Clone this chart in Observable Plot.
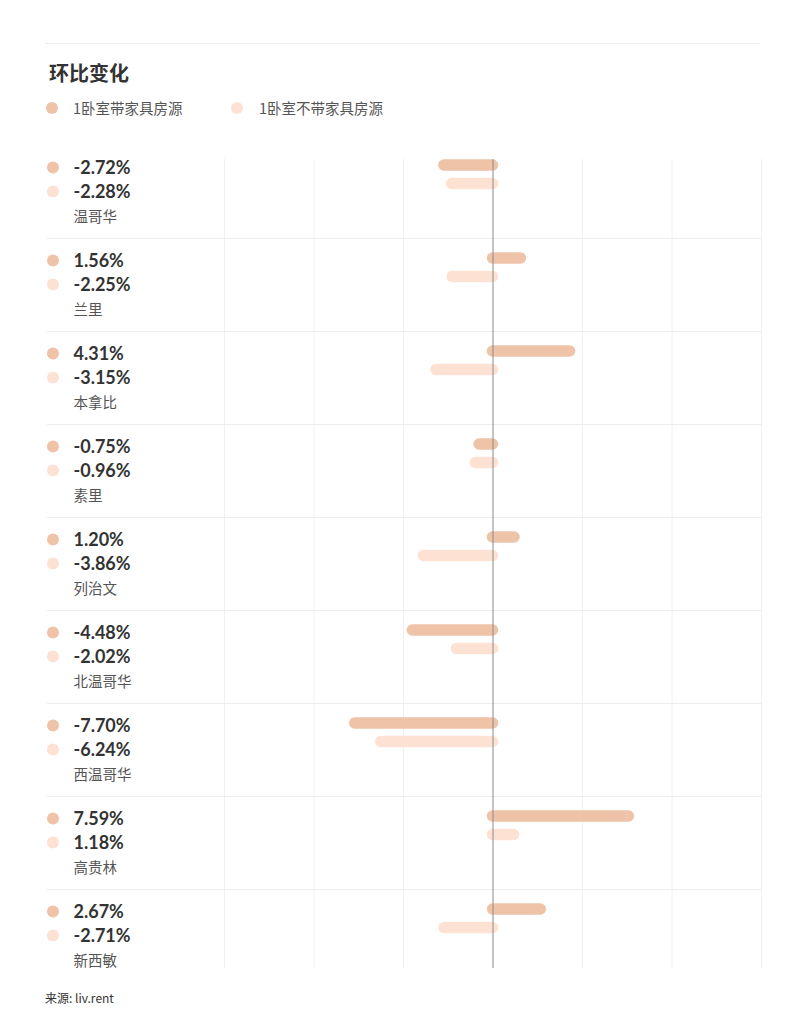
<!DOCTYPE html>
<html>
<head>
<meta charset="utf-8">
<script src="https://cdn.jsdelivr.net/npm/d3@7"></script>
<script src="https://cdn.jsdelivr.net/npm/@observablehq/plot@0.6"></script>
<style>
  html, body { margin: 0; padding: 0; background: #fff; }
  #wrap { position: relative; width: 805px; height: 1024px; font-family: "Noto Sans CJK SC", "Noto Sans", sans-serif; }
  #topline { position: absolute; left: 45px; top: 43px; width: 715px; height: 1px; background: #ededed; }
  #title { position: absolute; left: 49px; top: 59px; font-size: 20px; font-weight: bold; color: #333; line-height: 28px; }
  .leg { position: absolute; top: 97px; font-size: 14.5px; color: #555; line-height: 22px; white-space: nowrap; }
  .leg span.dot { position: absolute; width: 12px; height: 12px; border-radius: 50%; top: 5px; }
  #chart { position: absolute; left: 0; top: 130px; }
  #caption { position: absolute; left: 45px; top: 989px; font-size: 12px; color: #333; line-height: 18px; }
</style>
</head>
<body>
<div id="wrap">
  <div id="topline"></div>
  <div id="title"></div>
  <div id="legend"></div>
  <div id="chart"></div>
  <div id="caption"></div>
</div>
<script>
const titleText = "环比变化";
const captionText = "来源: liv.rent";
const seriesNames = ["1卧室带家具房源", "1卧室不带家具房源"];
const cities = ["温哥华", "兰里", "本拿比", "素里", "列治文", "北温哥华", "西温哥华", "高贵林", "新西敏"];
const furnished = [-2.72, 1.56, 4.31, -0.75, 1.20, -4.48, -7.70, 7.59, 2.67];
const unfurnished = [-2.28, -2.25, -3.15, -0.96, -3.86, -2.02, -6.24, 1.18, -2.71];
const gridTicks = [-15, -10, -5, 5, 10, 15];
const colors = ["#efc3a8", "#fde2d3"];

document.getElementById("title").textContent = titleText;
document.getElementById("caption").textContent = captionText;

const legend = document.getElementById("legend");
const legX = [[46, 73], [231, 259]];
seriesNames.forEach((name, i) => {
  const dot = document.createElement("div");
  dot.className = "leg";
  dot.style.left = legX[i][0] + "px";
  dot.innerHTML = `<span class="dot" style="background:${colors[i]}"></span>`;
  legend.appendChild(dot);
  const t = document.createElement("div");
  t.className = "leg";
  t.style.left = legX[i][1] + "px";
  t.textContent = name;
  legend.appendChild(t);
});

const rows = cities.map((c, i) => ({city: c, f: furnished[i], u: unfurnished[i]}));
const fmt = v => v.toFixed(2) + "%";
const numFont = "Lato, 'Noto Sans', sans-serif";
const cjkFont = "'Noto Sans CJK SC', sans-serif";

const chart = Plot.plot({
  width: 805,
  height: 860,
  marginTop: 29,
  marginBottom: 22,
  marginLeft: 47,
  marginRight: 44,
  style: {background: "transparent", fontFamily: cjkFont},
  x: {domain: [-15, 15], range: [224, 761], axis: null},
  y: {type: "band", domain: cities, range: [15, 852], padding: 0, axis: null},
  marks: [
    Plot.ruleX(gridTicks, {stroke: "#f0f0f0", strokeWidth: 1}),
    Plot.ruleY(cities.slice(0, -1), {y: d => d, dy: 46.5, stroke: "#ececec", strokeWidth: 1}),
    Plot.ruleY(rows, {y: "city", x1: 0, x2: "f", dy: -27, stroke: colors[0], strokeWidth: 11.5, strokeLinecap: "round"}),
    Plot.ruleY(rows, {y: "city", x1: 0, x2: "u", dy: -8.5, stroke: colors[1], strokeWidth: 11.5, strokeLinecap: "round"}),
    Plot.ruleX([0], {stroke: "#8a8a8a", strokeWidth: 1}),
    Plot.dot(rows, {y: "city", frameAnchor: "left", dx: 5.5, dy: -24.5, r: 6, fill: colors[0]}),
    Plot.dot(rows, {y: "city", frameAnchor: "left", dx: 5.5, dy: -0.5, r: 6, fill: colors[1]}),
    Plot.text(rows, {y: "city", text: d => fmt(d.f), frameAnchor: "left", textAnchor: "start", dx: 26, dy: -24, fontSize: 18, fontWeight: "bold", fill: "#333", fontFamily: numFont}),
    Plot.text(rows, {y: "city", text: d => fmt(d.u), frameAnchor: "left", textAnchor: "start", dx: 26, dy: 0, fontSize: 18, fontWeight: "bold", fill: "#333", fontFamily: numFont}),
    Plot.text(rows, {y: "city", text: "city", frameAnchor: "left", textAnchor: "start", dx: 26, dy: 25, fontSize: 14.5, fill: "#555", fontFamily: cjkFont})
  ]
});
document.getElementById("chart").appendChild(chart);
</script>
</body>
</html>
